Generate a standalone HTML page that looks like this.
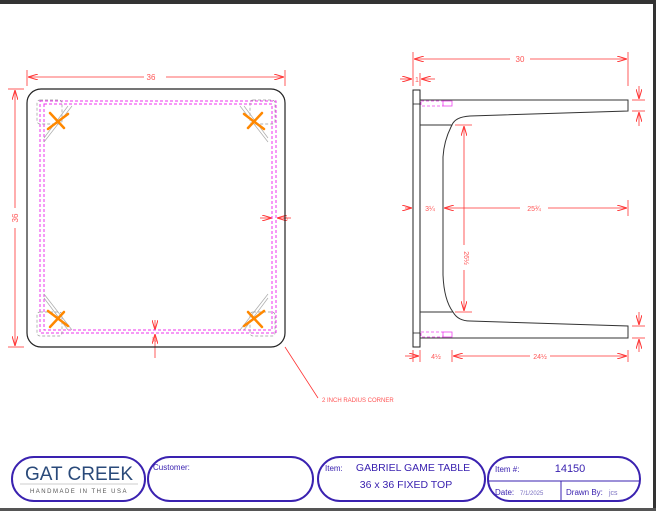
<!DOCTYPE html>
<html><head><style>
body{margin:0;background:#fff;}
svg{display:block}
text{font-family:"Liberation Sans",sans-serif;}
</style></head><body>
<svg width="656" height="511" viewBox="0 0 656 511" xmlns="http://www.w3.org/2000/svg">
<defs>
<marker id="a" viewBox="0 0 10 6" refX="10" refY="3" markerWidth="10" markerHeight="6" orient="auto-start-reverse" markerUnits="userSpaceOnUse"><path d="M0,0 L10,3 L0,6" fill="none" stroke="#f33" stroke-width="1"/></marker>
</defs>
<rect x="0" y="0" width="656" height="4" fill="#333"/>
<rect x="653" y="0" width="3" height="511" fill="#333"/>
<rect x="0" y="508" width="656" height="3" fill="#555"/>

<!-- LEFT VIEW -->
<g stroke="#f33" stroke-width="0.8" fill="none">
<line x1="27" y1="70" x2="27" y2="86"/><line x1="285" y1="70" x2="285" y2="86"/>
<line x1="28" y1="77" x2="144" y2="77" marker-start="url(#a)"/><line x1="166" y1="77" x2="284" y2="77" marker-end="url(#a)"/>
<line x1="8" y1="89" x2="24" y2="89"/><line x1="8" y1="347" x2="24" y2="347"/>
<line x1="15" y1="90" x2="15" y2="208" marker-start="url(#a)"/><line x1="15" y1="228" x2="15" y2="346" marker-end="url(#a)"/>
<line x1="260" y1="218" x2="272" y2="218" marker-end="url(#a)"/><line x1="291" y1="218" x2="277" y2="218" marker-end="url(#a)"/>
<line x1="155" y1="320" x2="155" y2="330" marker-end="url(#a)"/><line x1="155" y1="358" x2="155" y2="334" marker-end="url(#a)"/>
<line x1="285" y1="347" x2="318" y2="398"/>
</g>
<text x="151" y="80" font-size="8" fill="#f55" text-anchor="middle">36</text>
<text x="18" y="218" font-size="8" fill="#f55" text-anchor="middle" transform="rotate(-90 18 218)">36</text>
<text x="283" y="221" font-size="6" fill="#f55">½</text>
<text x="152" y="342" font-size="6" fill="#f55">½</text>
<text x="322" y="402" font-size="6" fill="#f55">2 INCH RADIUS CORNER</text>
<rect x="27" y="89" width="258" height="258" rx="14" fill="none" stroke="#222" stroke-width="1.2"/>
<rect x="40" y="101" width="236" height="232" fill="none" stroke="#e3e" stroke-width="1" stroke-dasharray="3,2"/>
<rect x="44" y="104" width="228" height="226" fill="none" stroke="#e3e" stroke-width="1" stroke-dasharray="3,2"/>
<g stroke="#999" stroke-width="0.7" fill="none" stroke-dasharray="3,2">
<rect x="37" y="100" width="25" height="24" rx="3"/><rect x="250" y="100" width="25" height="24" rx="3"/>
<rect x="37" y="312" width="25" height="24" rx="3"/><rect x="250" y="312" width="25" height="24" rx="3"/>
</g>
<g stroke="#aaa" stroke-width="0.7">
<line x1="44" y1="138" x2="68" y2="106"/><line x1="44" y1="142" x2="72" y2="106"/>
<line x1="244" y1="106" x2="268" y2="138"/><line x1="240" y1="106" x2="268" y2="142"/>
<line x1="44" y1="298" x2="68" y2="330"/><line x1="44" y1="294" x2="72" y2="330"/>
<line x1="244" y1="330" x2="268" y2="298"/><line x1="240" y1="330" x2="268" y2="294"/>
</g>
<g stroke="#f80" stroke-width="2.5" stroke-linecap="round">
<line x1="50" y1="113" x2="64" y2="128"/><line x1="48" y1="129" x2="68" y2="114"/>
<line x1="248" y1="128" x2="262" y2="113"/><line x1="244" y1="114" x2="264" y2="129"/>
<line x1="50" y1="327" x2="64" y2="312"/><line x1="48" y1="311" x2="68" y2="326"/>
<line x1="248" y1="312" x2="262" y2="327"/><line x1="244" y1="326" x2="264" y2="311"/>
</g>

<!-- RIGHT VIEW -->
<rect x="413" y="90" width="7" height="257" fill="none" stroke="#222" stroke-width="1"/>
<line x1="413" y1="104" x2="420" y2="104" stroke="#222" stroke-width="0.8"/>
<line x1="413" y1="333" x2="420" y2="333" stroke="#222" stroke-width="0.8"/>
<path d="M420,100 L628,100 L628,111 L470,116 Q455,117 452,125 Q444,140 443,157 L443,275 Q444,300 453,312 Q458,321 470,321 L628,326 L628,338 L420,338" fill="none" stroke="#333" stroke-width="1"/>
<line x1="420" y1="125" x2="452" y2="125" stroke="#333" stroke-width="1"/>
<line x1="420" y1="312" x2="453" y2="312" stroke="#333" stroke-width="1"/>
<rect x="421" y="101" width="22" height="5" fill="none" stroke="#e4e" stroke-width="0.8" stroke-dasharray="3,2"/>
<rect x="443" y="101" width="9" height="5" fill="none" stroke="#e4e" stroke-width="0.8"/>
<rect x="421" y="332" width="22" height="5" fill="none" stroke="#e4e" stroke-width="0.8" stroke-dasharray="3,2"/>
<rect x="443" y="332" width="9" height="5" fill="none" stroke="#e4e" stroke-width="0.8"/>
<g stroke="#f33" stroke-width="0.8" fill="none">
<line x1="413" y1="52" x2="413" y2="86"/><line x1="628" y1="52" x2="628" y2="86"/>
<line x1="414" y1="59" x2="510" y2="59" marker-start="url(#a)"/><line x1="530" y1="59" x2="627" y2="59" marker-end="url(#a)"/>
<line x1="420" y1="73" x2="420" y2="86"/>
<line x1="400" y1="79" x2="412" y2="79" marker-end="url(#a)"/><line x1="435" y1="79" x2="421" y2="79" marker-end="url(#a)"/>
<line x1="405" y1="208" x2="412" y2="208" marker-end="url(#a)"/>
<line x1="444" y1="208" x2="520" y2="208" marker-start="url(#a)"/><line x1="548" y1="208" x2="627" y2="208" marker-end="url(#a)"/>
<line x1="628" y1="200" x2="628" y2="216"/>
<line x1="455" y1="125" x2="472" y2="125"/><line x1="455" y1="312" x2="472" y2="312"/>
<line x1="464" y1="126" x2="464" y2="245" marker-start="url(#a)"/><line x1="464" y1="270" x2="464" y2="311" marker-end="url(#a)"/>
<line x1="413" y1="350" x2="413" y2="362"/><line x1="420" y1="350" x2="420" y2="362"/><line x1="452" y1="350" x2="452" y2="362"/><line x1="628" y1="350" x2="628" y2="362"/>
<line x1="405" y1="356" x2="419" y2="356" marker-end="url(#a)"/>
<line x1="453" y1="356" x2="530" y2="356" marker-start="url(#a)"/><line x1="550" y1="356" x2="627" y2="356" marker-end="url(#a)"/>
<line x1="632" y1="100" x2="645" y2="100"/><line x1="632" y1="111" x2="645" y2="111"/>
<line x1="639" y1="86" x2="639" y2="99" marker-end="url(#a)"/><line x1="639" y1="126" x2="639" y2="112" marker-end="url(#a)"/>
<line x1="632" y1="326" x2="645" y2="326"/><line x1="632" y1="338" x2="645" y2="338"/>
<line x1="639" y1="312" x2="639" y2="325" marker-end="url(#a)"/><line x1="639" y1="352" x2="639" y2="339" marker-end="url(#a)"/>
</g>
<text x="520" y="62" font-size="8" fill="#f55" text-anchor="middle">30</text>
<text x="417" y="82" font-size="7" fill="#f55" text-anchor="middle">1</text>
<text x="430" y="211" font-size="7" fill="#f55" text-anchor="middle">3¼</text>
<text x="534" y="211" font-size="7" fill="#f55" text-anchor="middle">25¾</text>
<text x="464" y="258" font-size="7" fill="#f55" text-anchor="middle" transform="rotate(90 464 258)">26½</text>
<text x="436" y="359" font-size="7" fill="#f55" text-anchor="middle">4½</text>
<text x="540" y="359" font-size="7" fill="#f55" text-anchor="middle">24½</text>

<!-- TITLE BLOCK -->
<g fill="none" stroke="#3a22b0" stroke-width="2">
<rect x="12" y="457" width="133" height="44" rx="22"/>
<rect x="148" y="457" width="165" height="44" rx="22"/>
<rect x="318" y="457" width="167" height="44" rx="22"/>
<rect x="488" y="457" width="152" height="44" rx="22"/>
</g>
<line x1="488" y1="481" x2="640" y2="481" stroke="#3a22b0" stroke-width="1"/>
<line x1="561" y1="481" x2="561" y2="501" stroke="#3a22b0" stroke-width="1"/>
<text x="79" y="480" font-size="19" fill="#2a4a7a" text-anchor="middle">GAT CREEK</text>
<line x1="20" y1="484" x2="138" y2="484" stroke="#999" stroke-width="0.6"/>
<text x="79" y="493" font-size="6" fill="#555" text-anchor="middle" letter-spacing="1.5">HANDMADE IN THE USA</text>
<text x="153" y="470" font-size="8" fill="#3a22b0">Customer:</text>
<text x="325" y="471" font-size="8" fill="#3a22b0">Item:</text>
<text x="413" y="471" font-size="10.5" fill="#3a22b0" text-anchor="middle">GABRIEL GAME TABLE</text>
<text x="406" y="488" font-size="10.5" fill="#3a22b0" text-anchor="middle">36 x 36 FIXED TOP</text>
<text x="495" y="472" font-size="8" fill="#3a22b0">Item #:</text>
<text x="570" y="472" font-size="11" fill="#3a22b0" text-anchor="middle">14150</text>
<text x="495" y="495" font-size="8" fill="#3a22b0">Date:</text>
<text x="520" y="495" font-size="6" fill="#7a70c0">7/1/2025</text>
<text x="566" y="495" font-size="8" fill="#3a22b0">Drawn By:</text>
<text x="609" y="495" font-size="7" fill="#7a70c0">jcs</text>
</svg>
</body></html>
